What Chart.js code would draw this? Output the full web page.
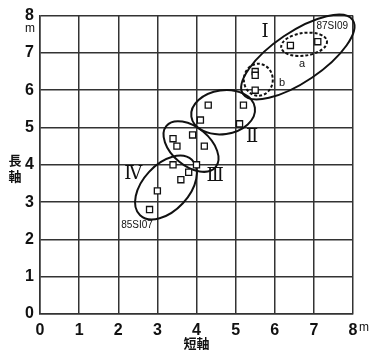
<!DOCTYPE html>
<html>
<head>
<meta charset="utf-8">
<script src="https://cdn.jsdelivr.net/npm/chart.js@4"></script>
<style>
  html, body { margin: 0; padding: 0; background: #fff; }
  #wrap { width: 371px; height: 350px; }
</style>
</head>
<body>
<div id="wrap"><canvas id="myChart" width="371" height="350"></canvas></div>
<script>
// short axis (x) / long axis (y), metres
var shortAxis = [6.4, 7.1, 5.5, 5.5, 5.5, 4.3, 5.2, 4.1, 5.1, 3.4, 3.5, 3.9, 4.2, 3.4, 4.0, 3.8, 3.6, 3.0, 2.8];
var longAxis  = [7.2, 7.3, 6.5, 6.4, 6.0, 5.6, 5.6, 5.2, 5.1, 4.7, 4.5, 4.8, 4.5, 4.0, 4.0, 3.8, 3.6, 3.3, 2.8];
var tickValues = [0, 1, 2, 3, 4, 5, 6, 7, 8];

// group outlines: centre in data units, radii in x units, screen rotation
var groupNames = ['I', 'II', 'III', 'IV', 'a', 'b'];
var groupCx    = [6.59, 4.68, 3.86, 3.22, 6.75, 5.58];
var groupCy    = [6.89, 5.41, 4.49, 3.39, 7.23, 6.28];
var groupRx    = [1.69, 0.82, 0.82, 0.97, 0.59, 0.37];
var groupRy    = [0.64, 0.56, 0.49, 0.59, 0.29, 0.41];
var groupRot   = [-34, -8, 40, -47, -8, 0];
var groupDash  = [false, false, false, false, true, true];

// text labels placed in data units
var labelTexts = ['Ⅰ', 'Ⅱ', 'Ⅲ', 'Ⅳ', 'a', 'b', '87SI09', '85SI07'];
var labelX     = [5.75, 5.42, 4.48, 2.38, 6.70, 6.19, 7.47, 2.48];
var labelY     = [7.55, 4.73, 3.70, 3.75, 6.70, 6.20, 7.71, 2.37];

var points = [];
for (var i = 0; i < shortAxis.length; i++) {
    points.push({ x: shortAxis[i], y: longAxis[i] });
}

var gridColor = '#333';

var overlay = {
    id: 'overlay',
    beforeDatasetsDraw: function(chart) {
        var ctx = chart.ctx;
        var xs = chart.scales.x, ys = chart.scales.y;
        var unit = xs.getPixelForValue(1) - xs.getPixelForValue(0);
        ctx.save();
        for (var i = 0; i < groupNames.length; i++) {
            ctx.beginPath();
            ctx.ellipse(xs.getPixelForValue(groupCx[i]), ys.getPixelForValue(groupCy[i]),
                groupRx[i] * unit, groupRy[i] * unit, groupRot[i] * Math.PI / 180, 0, Math.PI * 2);
            ctx.lineWidth = 2;
            ctx.strokeStyle = '#111';
            ctx.setLineDash(groupDash[i] ? [3, 2] : []);
            ctx.stroke();
        }
        ctx.restore();
    },
    afterDraw: function(chart) {
        var ctx = chart.ctx;
        var xs = chart.scales.x, ys = chart.scales.y;
        var area = chart.chartArea;
        ctx.save();
        ctx.fillStyle = '#111';
        ctx.textAlign = 'center';
        ctx.textBaseline = 'middle';
        for (var i = 0; i < labelTexts.length; i++) {
            var t = labelTexts[i];
            if (t.length > 2) {
                ctx.font = '10px "Liberation Sans", Arial, sans-serif';
            } else if (t === 'a' || t === 'b') {
                ctx.font = '11px "Liberation Sans", Arial, sans-serif';
            } else {
                ctx.font = '18px "Liberation Serif", "DejaVu Serif", serif';
            }
            ctx.fillText(t, xs.getPixelForValue(labelX[i]), ys.getPixelForValue(labelY[i]));
        }
        // units
        ctx.font = '12px "Liberation Sans", Arial, sans-serif';
        ctx.fillText('m', 30, area.top + 13);
        ctx.textAlign = 'left';
        ctx.fillText('m', area.right + 6, area.bottom + 14);
        // axis titles
        ctx.textAlign = 'center';
        ctx.font = 'bold 13px "Noto Sans CJK JP", sans-serif';
        ctx.fillText('長', 15, 160);
        ctx.fillText('軸', 15, 176);
        ctx.fillText('短軸', (area.left + area.right) / 2, 343);
        ctx.restore();
    }
};

var ctx = document.getElementById('myChart');
new Chart(ctx, {
    type: 'scatter',
    data: {
        datasets: [{
            data: points,
            pointStyle: 'rect',
            pointRadius: 4.3,
            pointHoverRadius: 4.3,
            pointBorderWidth: 1.3,
            pointBorderColor: '#111',
            pointBackgroundColor: '#fff'
        }]
    },
    options: {
        responsive: false,
        animation: false,
        events: [],
        layout: { padding: { top: 13, right: 18, left: 0, bottom: 0 } },
        plugins: { legend: { display: false }, tooltip: { enabled: false } },
        scales: {
            x: {
                type: 'linear', min: 0, max: 8,
                afterBuildTicks: function(scale) { scale.ticks = tickValues.map(function(v) { return { value: v }; }); },
                afterFit: function(scale) { scale.height = 36; },
                grid: { color: gridColor, lineWidth: 1.5, drawTicks: false },
                border: { color: gridColor, width: 1.5 },
                ticks: { padding: 7, color: '#111', font: { family: '"Liberation Sans", Arial, sans-serif', size: 16, weight: 'bold' } }
            },
            y: {
                type: 'linear', min: 0, max: 8,
                afterBuildTicks: function(scale) { scale.ticks = tickValues.map(function(v) { return { value: v }; }); },
                afterFit: function(scale) { scale.width = 40; },
                grid: { color: gridColor, lineWidth: 1.5, drawTicks: false },
                border: { color: gridColor, width: 1.5 },
                ticks: { padding: 6, color: '#111', font: { family: '"Liberation Sans", Arial, sans-serif', size: 16, weight: 'bold' } }
            }
        }
    },
    plugins: [overlay]
});
</script>
</body>
</html>
